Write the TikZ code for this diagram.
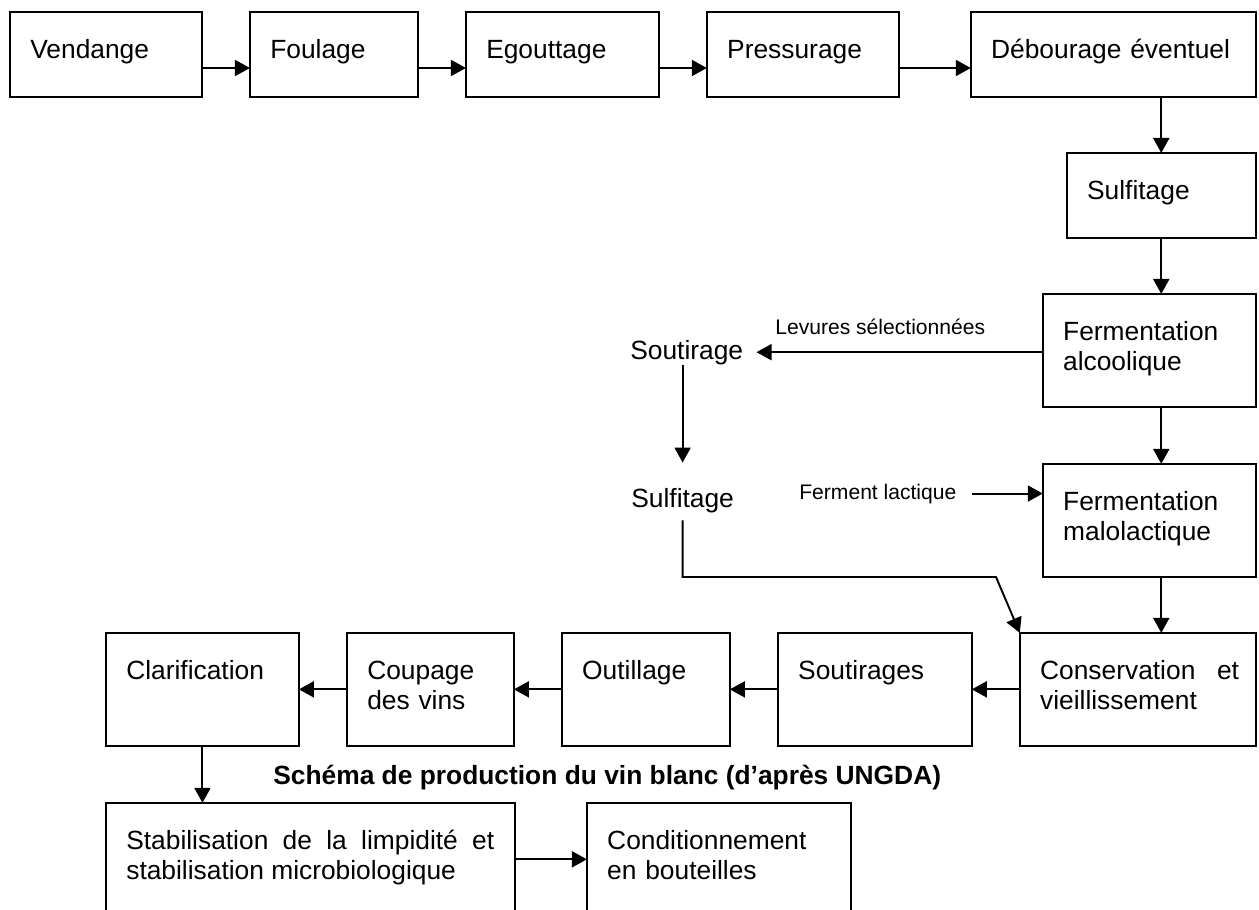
\documentclass[tikz,border=0pt]{standalone}
\usepackage{fontspec}
\setmainfont{Liberation Sans}
\usetikzlibrary{arrows.meta, positioning}
\newcommand{\boxfont}{\fontsize{15pt}{17.4pt}\selectfont}
\newcommand{\notefont}{\fontsize{12pt}{14pt}\selectfont}

\begin{document}
\begin{tikzpicture}[
      x=0.02cm, y=-0.02cm,
      stepbox/.style={rectangle, draw, line width=1.1pt, outer sep=0pt,
                      inner sep=0pt, minimum height=2.26cm},
      lowbox/.style={stepbox, minimum height=1.7cm},
      boxtext/.style={anchor=north west, inner sep=0pt, xshift=0.4cm,
                      yshift=-0.49cm, text width=7.4cm, align=left,
                      font=\boxfont, execute at begin node=\strut},
      freetext/.style={anchor=base west, inner sep=0pt, font=\boxfont},
      note/.style={anchor=base west, inner sep=0pt, font=\notefont},
      arr/.style={-{Triangle[length=0.3cm, width=0.32cm]}, line width=1.1pt}
    ]
      \useasboundingbox (0,0) rectangle (1259,910);
      \clip (0,0) rectangle (1259,910);

      % first row
      \node[lowbox, minimum width=3.84cm, anchor=north west] (vend) at (10,12) {};
      \node[lowbox, minimum width=3.36cm, right=0.96cm of vend] (foul) {};
      \node[lowbox, minimum width=3.86cm, right=0.96cm of foul] (egou) {};
      \node[lowbox, minimum width=3.84cm, right=0.96cm of egou] (pres) {};
      \node[lowbox, minimum width=5.70cm, right=1.44cm of pres] (debo) {};

      % right column
      \node[lowbox, minimum width=3.78cm, below=1.12cm of debo.south east, anchor=north east] (sulf) {};
      \node[stepbox, minimum width=4.26cm, below=1.12cm of sulf.south east, anchor=north east] (alco) {};
      \node[stepbox, minimum width=4.26cm, below=1.14cm of alco.south east, anchor=north east] (malo) {};
      \node[stepbox, minimum width=4.72cm, below=1.12cm of malo.south east, anchor=north east] (cons) {};

      % bottom rows
      \node[stepbox, minimum width=3.88cm, left=0.96cm of cons] (sout) {};
      \node[stepbox, minimum width=3.36cm, left=0.96cm of sout] (outi) {};
      \node[stepbox, minimum width=3.34cm, left=0.96cm of outi] (coup) {};
      \node[stepbox, minimum width=3.86cm, left=0.96cm of coup] (clar) {};
      \node[stepbox, minimum width=8.18cm, below=1.14cm of clar.south west, anchor=north west] (stab) {};
      \node[stepbox, minimum width=5.28cm, right=1.44cm of stab] (cond) {};

      % texts in the boxes
      \node[boxtext] (vendt) at (vend.north west) {Vendange};
      \node[boxtext] (foult) at (foul.north west) {Foulage};
      \node[boxtext] (egout) at (egou.north west) {Egouttage};
      \node[boxtext] (prest) at (pres.north west) {Pressurage};
      \node[boxtext] (debot) at (debo.north west) {Débourage éventuel};
      \node[boxtext] (sulft) at (sulf.north west) {Sulfitage};
      \node[boxtext] (alcot) at (alco.north west) {Fermentation\\alcoolique};
      \node[boxtext] (malot) at (malo.north west) {Fermentation\\malolactique};
      \node[boxtext, text width=3.98cm, align=justify] (const) at (cons.north west) {Conservation et vieillissement};
      \node[boxtext] (soutt) at (sout.north west) {Soutirages};
      \node[boxtext] (outit) at (outi.north west) {Outillage};
      \node[boxtext] (coupt) at (coup.north west) {Coupage\\des vins};
      \node[boxtext] (clart) at (clar.north west) {Clarification};
      \node[boxtext, text width=7.36cm, align=justify] (stabt) at (stab.north west) {Stabilisation de la limpidité et stabilisation microbiologique};
      \node[boxtext] (condt) at (cond.north west) {Conditionnement\\en bouteilles};

      % free texts
      \node[freetext] (soutl) at (630,359) {Soutirage};
      \node[freetext] (sulfl) at (631,507) {Sulfitage};
      \node[note] (levu) at (775,334) {Levures sélectionnées};
      \node[note] (ferm) at (799,499) {Ferment lactique};
      \node[freetext, font=\boxfont\bfseries] (capt) at (273,784) {Schéma de production du vin blanc (d’après UNGDA)};

      % connectors
      \draw[arr] ([yshift=-0.27cm]vend.east) -- ([yshift=-0.27cm]foul.west);
      \draw[arr] ([yshift=-0.27cm]foul.east) -- ([yshift=-0.27cm]egou.west);
      \draw[arr] ([yshift=-0.27cm]egou.east) -- ([yshift=-0.27cm]pres.west);
      \draw[arr] ([yshift=-0.27cm]pres.east) -- ([yshift=-0.27cm]debo.west);
      \draw[arr] (sulf.north |- debo.south) -- (sulf.north);
      \draw[arr] (sulf.south) -- (sulf.south |- alco.north);
      \draw[arr] (sulf.south |- alco.south) -- (sulf.south |- malo.north);
      \draw[arr] (sulf.south |- malo.south) -- (sulf.south |- cons.north);
      \draw[arr] (alco.west |- soutl) -- ([xshift=0.26cm]soutl.east);
      \draw[arr] (sulfl.north |- soutl.south) -- ([yshift=0.5cm]sulfl.north);
      \draw[arr] ([xshift=0.3cm]ferm.east) -- (ferm.east -| malo.west);
      \coordinate (bend) at (996,577);
      \draw[arr] ([yshift=-0.15cm]sulfl.south) |- (bend) -- (cons.north west);
      \draw[arr] (cons.west) -- (sout.east);
      \draw[arr] (sout.west) -- (outi.east);
      \draw[arr] (outi.west) -- (coup.east);
      \draw[arr] (coup.west) -- (clar.east);
      \draw[arr] (clar.south) -- (clar.south |- stab.north);
      \draw[arr] (stab.east) -- (cond.west);
    \end{tikzpicture}
\end{document}
